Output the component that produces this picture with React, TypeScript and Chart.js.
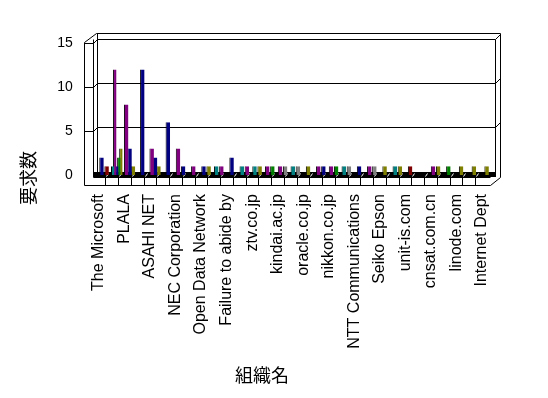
import React, { useEffect, useRef } from 'react';
import { Chart, registerables } from 'chart.js';

Chart.register(...registerables);

const N = null;

// 31 organisations; only every other name is printed in the reference
const categories = [
  'The Microsoft', '', 'PLALA', '', 'ASAHI NET', '', 'NEC Corporation', '',
  'Open Data Network', '', 'Failure to abide by', '', 'ztv.co.jp', '', 'kindai.ac.jp', '',
  'oracle.co.jp', '', 'nikkon.co.jp', '', 'NTT Communications', '', 'Seiko Epson', '',
  'unit-is.com', '', 'cnsat.com.cn', '', 'linode.com', '', 'Internet Dept',
];

const yTicks = [0, 5, 10, 15];

const tealSeries = [N, 1, N, N, N, N, N, N, N, 1, N, 1, 1, N, N, 1, N, N, N, 1, N, N, N, 1, N, N, N, N, N, N, N];
const purpleSeries = [N, 12, 8, N, 3, N, 3, 1, N, 1, N, 1, N, 1, 1, N, N, 1, 1, N, N, 1, N, N, N, N, 1, N, N, N, N];
const navySeries = [2, 1, 3, 12, 2, 6, 1, N, 1, N, 2, N, N, N, N, N, N, 1, N, N, 1, N, N, N, N, N, N, N, N, N, N];
const graySeries = [N, N, N, N, N, N, N, N, N, N, N, N, N, N, 1, 1, N, N, N, 1, N, 1, N, N, N, N, N, N, N, N, N];
const greenSeries = [N, 2, N, N, N, N, N, N, N, N, N, N, N, 1, N, N, N, N, 1, N, N, N, N, N, N, N, N, 1, N, N, N];
const oliveSeries = [N, 3, 1, N, 1, N, N, N, 1, N, N, N, 1, N, N, N, 1, N, N, N, N, N, 1, 1, N, N, 1, N, 1, 1, 1];
const maroonSeries = [1, N, N, N, N, N, N, N, N, N, N, N, N, N, N, N, N, N, N, N, N, N, N, N, 1, N, N, N, N, N, N];

const yTitle = '要求数';
const xTitle = '組織名';

const FONT = '"Liberation Sans", "Noto Sans CJK JP", sans-serif';
const CJK = '"Noto Sans CJK JP", sans-serif';

const framePlugin = {
  id: 'frame3d',
  beforeDatasetsDraw(chart: any) {
    const { ctx } = chart;
    const xs = chart.scales.x;
    const ys = chart.scales.y;
    const p = (v: number) => Math.round(v) + 0.5;
    const line = (pts: number[][], color = '#000') => {
      ctx.beginPath();
      ctx.strokeStyle = color;
      ctx.lineWidth = 1;
      pts.forEach((pt, i) => (i ? ctx.lineTo(p(pt[0]), p(pt[1])) : ctx.moveTo(p(pt[0]), p(pt[1]))));
      ctx.stroke();
    };
    const y0 = ys.getPixelForValue(0);
    const yTop = ys.getPixelForValue(15);
    const dx = 5;
    const fl = xs.left - dx;
    const fr = xs.right - dx;
    const outerL = fl - 9;
    const backL = xs.left - 1;
    const backR = xs.right + 2;
    const frontBottom = y0 + 10;
    const floorTop = y0 - 3;
    const floorFrontTop = y0 + 2;
    const topBack = yTop - 10;
    const n = categories.length;
    const w = (fr - fl) / n;

    ctx.save();
    // back wall
    line([[backL - 1, topBack], [backR + 5, topBack]]);
    line([[backL, topBack], [backL, floorTop]]);
    for (const v of yTicks) {
      if (v === 0) continue;
      const y = ys.getPixelForValue(v);
      line([[backL, y - 4], [backR, y - 4]]);
      line([[outerL, y], [fl, y], [backL, y - 4]]);
      line([[backR, y - 4], [backR + 5, y - 9]]);
    }
    // left slab
    line([[outerL, yTop - 1], [outerL, frontBottom]]);
    line([[fl, yTop - 4], [fl, floorFrontTop]]);
    line([[outerL, yTop - 1], [backL - 1, topBack]]);
    // right slab
    line([[backR, yTop - 4], [backR, floorTop]]);
    line([[backR + 5, topBack], [backR + 5, floorFrontTop]]);
    line([[fr + 2, frontBottom], [backR + 5, floorFrontTop]]);
    // floor top band
    ctx.fillStyle = '#000';
    ctx.fillRect(Math.round(fl), Math.round(floorTop), Math.round(backR - fl) + 1, Math.round(floorFrontTop - floorTop));
    for (let k = 1; k < n; k++) {
      const b = fl + k * w;
      line([[b + 1, floorFrontTop - 1], [b + 3, floorTop + 1]], '#fff');
    }
    // floor front face
    ctx.fillStyle = '#fff';
    ctx.fillRect(Math.round(fl) + 1, Math.round(floorFrontTop) + 1, Math.round(fr - fl), Math.round(frontBottom - floorFrontTop));
    line([[fl, floorFrontTop], [fr + 2, floorFrontTop]]);
    line([[outerL, frontBottom], [fr + 2, frontBottom]]);
    for (let k = 1; k < n; k++) {
      const b = fl + k * w;
      line([[b, floorFrontTop], [b, frontBottom]]);
    }
    ctx.restore();
  },
  afterDraw(chart: any) {
    const { ctx } = chart;
    ctx.save();
    ctx.fillStyle = '#000';
    ctx.font = '18px ' + CJK;
    ctx.textAlign = 'center';
    ctx.textBaseline = 'middle';
    ctx.fillText(xTitle, 262, 375);
    ctx.translate(28, 178);
    ctx.rotate(-Math.PI / 2);
    ctx.fillText(yTitle, 0, 0);
    ctx.restore();
  },
};

export default function App() {
  const ref = useRef<HTMLCanvasElement>(null);
  useEffect(() => {
    document.body.style.margin = '0';
    const series = [
      { label: 'teal', data: tealSeries, color: '#008080' },
      { label: 'purple', data: purpleSeries, color: '#800080' },
      { label: 'navy', data: navySeries, color: '#000080' },
      { label: 'gray', data: graySeries, color: '#808080' },
      { label: 'green', data: greenSeries, color: '#008000' },
      { label: 'olive', data: oliveSeries, color: '#808000' },
      { label: 'maroon', data: maroonSeries, color: '#800000' },
    ];
    const chart = new Chart(ref.current!, {
      type: 'bar',
      data: {
        labels: categories,
        datasets: series.map((s) => ({
          label: s.label,
          data: s.data,
          backgroundColor: s.color,
          borderColor: '#000',
          borderWidth: { left: 1, top: 0, right: 0, bottom: 0 },
          borderSkipped: false,
          skipNull: true,
          categoryPercentage: 0.8,
          barPercentage: 1.7,
          maxBarThickness: 4.5,
        })),
      },
      options: {
        responsive: false,
        animation: false,
        layout: { padding: { left: 0, right: 55, top: 43, bottom: 0 } },
        plugins: { legend: { display: false }, tooltip: { enabled: false } },
        scales: {
          x: {
            grid: { display: false, drawTicks: false },
            border: { display: false },
            ticks: {
              autoSkip: false,
              minRotation: 90,
              maxRotation: 90,
              padding: 19,
              labelOffset: -5,
              color: '#000',
              font: { size: 16, family: FONT },
            },
            afterFit: (s: any) => {
              s.height = 223;
            },
          },
          y: {
            min: 0,
            max: 15,
            grid: { display: false, drawTicks: false },
            border: { display: false },
            ticks: {
              stepSize: 5,
              padding: 25,
              color: '#000',
              font: { size: 14, family: FONT },
            },
            afterFit: (s: any) => {
              s.width = 97.7;
            },
          },
        },
      },
      plugins: [framePlugin],
    } as any);
    return () => chart.destroy();
  }, []);
  return <canvas ref={ref} width={548} height={398} style={{ display: 'block' }} />;
}
